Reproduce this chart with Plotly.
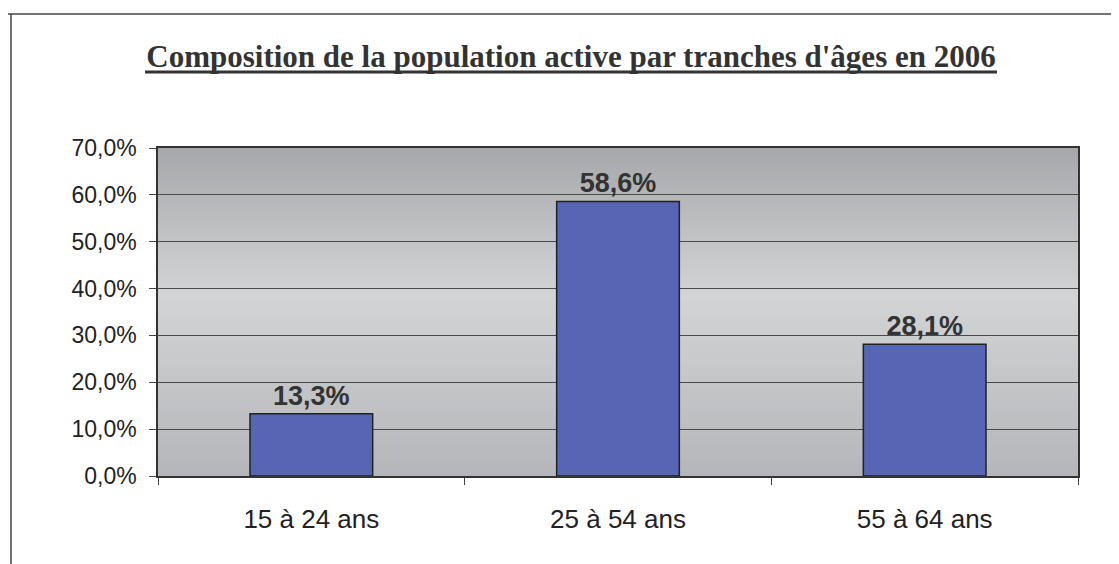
import base64
import struct
import zlib

import plotly.graph_objects as go

# ---- data ----
categories = ["15 à 24 ans", "25 à 54 ans", "55 à 64 ans"]
shares = [0.133, 0.586, 0.281]
y_ticks = [0.0, 0.1, 0.2, 0.3, 0.4, 0.5, 0.6, 0.7]
title_text = "Composition de la population active par tranches d'âges en 2006"

# ---- geometry (pixels, in the 1119x564 window) ----
OFF = 8  # default page body margin
W, H = 1119, 564
L, R, T, B = 158, 1078, 148, 476


def px_x(p):
    return (p - L) / (R - L)


def px_y(p):
    return (B - p) / (B - T)


def gradient_png(stops, h=256):
    rows = b""
    for i in range(h):
        f = i / (h - 1)
        for j in range(len(stops) - 1):
            f0, c0 = stops[j]
            f1, c1 = stops[j + 1]
            if f0 <= f <= f1:
                t = (f - f0) / (f1 - f0) if f1 > f0 else 0
                c = [round(c0[k] + (c1[k] - c0[k]) * t) for k in range(3)]
                break
        rows += b"\x00" + bytes(c)

    def chunk(tag, data):
        return (struct.pack(">I", len(data)) + tag + data
                + struct.pack(">I", zlib.crc32(tag + data) & 0xFFFFFFFF))

    png = b"\x89PNG\r\n\x1a\n"
    png += chunk(b"IHDR", struct.pack(">IIBBBBB", 1, h, 8, 2, 0, 0, 0))
    png += chunk(b"IDAT", zlib.compress(rows))
    png += chunk(b"IEND", b"")
    return "data:image/png;base64," + base64.b64encode(png).decode()


bg_src = gradient_png([
    (0.0, (166, 168, 171)),
    (0.45, (210, 212, 214)),
    (1.0, (180, 182, 185)),
])

fig = go.Figure()
fig.add_trace(go.Bar(
    x=categories,
    y=shares,
    marker=dict(color="#5766b4", line=dict(color="#222222", width=1.5)),
    texttemplate="<b>%{y:.1%}</b>",
    textposition="outside",
    textfont=dict(family="Liberation Sans, Arial, sans-serif", size=27, color="#333333"),
    cliponaxis=False,
    width=0.4,
))

fig.update_layout(
    width=W - OFF, height=H - OFF,
    margin=dict(l=L - OFF, r=W - R, t=T - OFF, b=H - B, pad=0),
    paper_bgcolor="white",
    plot_bgcolor="rgba(0,0,0,0)",
    separators=", ",
    showlegend=False,
    title=dict(
        text="<b>" + title_text + "</b>",
        x=(571 - OFF) / (W - OFF), xanchor="center",
        y=1 - (56 - OFF) / (H - OFF), yanchor="middle",
        font=dict(family="Liberation Serif, Times New Roman, serif", size=31, color="#333333"),
    ),
    images=[dict(
        source=bg_src, xref="paper", yref="paper", x=0, y=1, sizex=1, sizey=1,
        sizing="stretch", xanchor="left", yanchor="top", layer="below",
    )],
    shapes=[
        # title underline
        dict(type="line", xref="paper", yref="paper",
             x0=px_x(145), x1=px_x(997), y0=px_y(72), y1=px_y(72),
             line=dict(color="#333333", width=3)),
        # page frame lines
        dict(type="line", xref="paper", yref="paper",
             x0=px_x(OFF), x1=px_x(1119), y0=px_y(14), y1=px_y(14),
             line=dict(color="#444444", width=1.5)),
        dict(type="line", xref="paper", yref="paper",
             x0=px_x(11), x1=px_x(11), y0=px_y(14), y1=px_y(564),
             line=dict(color="#444444", width=1.5)),
    ],
)

fig.update_xaxes(
    type="category",
    showline=True, linecolor="#333333", linewidth=1.5, mirror=True,
    showgrid=False,
    ticks="outside", tickson="boundaries", ticklen=7, tickcolor="#444444",
    tickfont=dict(family="Liberation Sans, Arial, sans-serif", size=26, color="#222222"),
    ticklabelstandoff=19,
)
fig.update_yaxes(
    range=[0, 0.7],
    tickvals=y_ticks,
    tickformat=".1%",
    showline=True, linecolor="#333333", linewidth=1.5, mirror=True,
    showgrid=True, gridcolor="#4a4a4a", gridwidth=1,
    zeroline=False,
    ticks="outside", ticklen=7, tickcolor="#444444",
    tickfont=dict(family="Liberation Sans, Arial, sans-serif", size=23, color="#222222"),
    ticklabelstandoff=8,
)

fig.write_html("out.html")
